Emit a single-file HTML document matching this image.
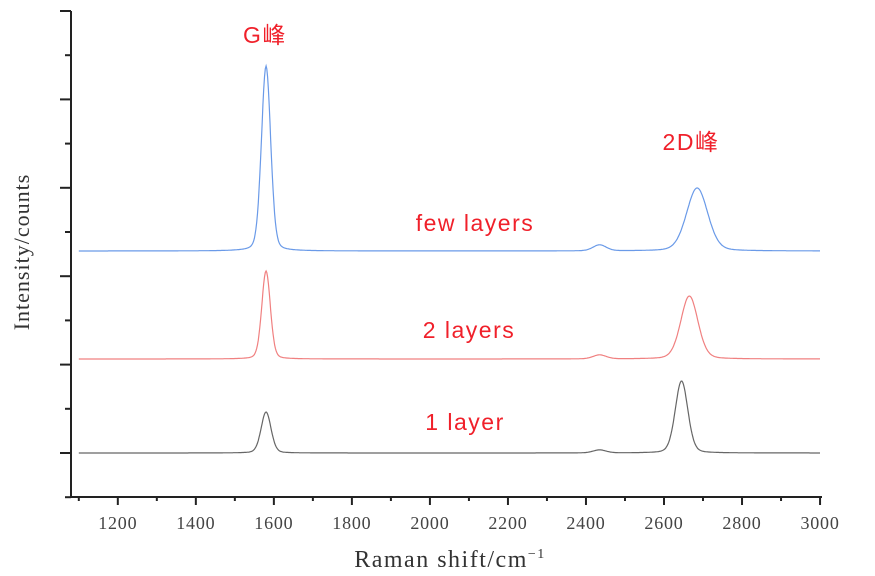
<!DOCTYPE html>
<html><head><meta charset="utf-8"><style>
body{margin:0;background:#fff}
svg{display:block}
.tk{font-family:"Liberation Serif",serif;font-size:18px;fill:#444;letter-spacing:0.8px}
.ann{font-family:"Liberation Sans","Noto Sans CJK SC",sans-serif;font-size:23px;fill:#f0202a;letter-spacing:1.5px}
</style></head><body>
<svg id="chart" width="875" height="576">
<g id="axes"></g><g id="lines"></g>
<text class="ann" x="265" y="43" text-anchor="middle">G峰</text>
<text class="ann" x="691" y="150" text-anchor="middle">2D峰</text>
<text class="ann" x="475" y="231" text-anchor="middle">few layers</text>
<text class="ann" x="469" y="338" text-anchor="middle">2 layers</text>
<text class="ann" x="465" y="430" text-anchor="middle">1 layer</text>
<text x="450" y="567" text-anchor="middle" style="font-family:'Liberation Serif',serif;font-size:24px;fill:#333;letter-spacing:1.5px">Raman shift/cm<tspan dy="-9" font-size="14">−1</tspan></text>
<text transform="translate(29,252) rotate(-90)" text-anchor="middle" style="font-family:'Liberation Serif',serif;font-size:22px;fill:#333;letter-spacing:1px">Intensity/counts</text>
</svg>
<script>
const xTicks=[1200,1400,1600,1800,2000,2200,2400,2600,2800,3000];
const seriesNames=["1 layer","2 layers","few layers"];
const seriesColors=["#666","#f08080","#6a9ae8"];
const baselines=[44,138,246];
const gCenters=[1580,1580,1580];
const gHeights=[41,88,185];
const gWidths=[30,26,28];
const dCenters=[2645,2665,2685];
const dHeights=[72,63,63];
const dWidths=[38,52,64];
const bumpHeights=[3,4,6];
const X0=1080,X1=3005,px0=71,px1=822;
const sx=v=>px0+(v-X0)/(X1-X0)*(px1-px0);
const sy=v=>497-v;
const NS="http://www.w3.org/2000/svg";
const ax=document.getElementById('axes');
function mk(t,a,p){const e=document.createElementNS(NS,t);for(const k in a)e.setAttribute(k,a[k]);p.appendChild(e);return e;}
let l=mk('line',{x1:71,y1:11,x2:71,y2:498,stroke:'#222','stroke-width':2},ax);

l=mk('line',{x1:70,y1:497,x2:822,y2:497,stroke:'#222','stroke-width':2},ax);

for(let i=0;i<12;i++){const y=11+i*44.2;const major=i%2==0;mk('line',{x1:major?60:65,y1:y,x2:71,y2:y,stroke:'#222','stroke-width':2},ax);}
for(let v=1100;v<=3000;v+=100){const x=sx(v);const major=v%200==0;mk('line',{x1:x,y1:497,x2:x,y2:major?505:501,stroke:'#222','stroke-width':2},ax);}
xTicks.forEach(v=>{const t=mk('text',{x:sx(v),y:529,'text-anchor':'middle',class:'tk'},ax);t.textContent=v;

});
const lg=document.getElementById('lines');
const pk=(x,c,h,w)=>{const u=(x-c)/(w/2);return h*(0.8*Math.exp(-0.693*u*u)+0.2/(1+u*u));};
seriesNames.forEach((n,i)=>{let d='';for(let x=1100;x<=3000;x+=2){const v=baselines[i]+pk(x,gCenters[i],gHeights[i],gWidths[i])+pk(x,dCenters[i],dHeights[i],dWidths[i])+pk(x,2435,bumpHeights[i],40);d+=(d?'L':'M')+sx(x).toFixed(1)+','+sy(v).toFixed(1);}
const p=mk('path',{d:d,fill:'none',stroke:seriesColors[i],'stroke-width':1.2},lg);

});
</script>
</body></html>
